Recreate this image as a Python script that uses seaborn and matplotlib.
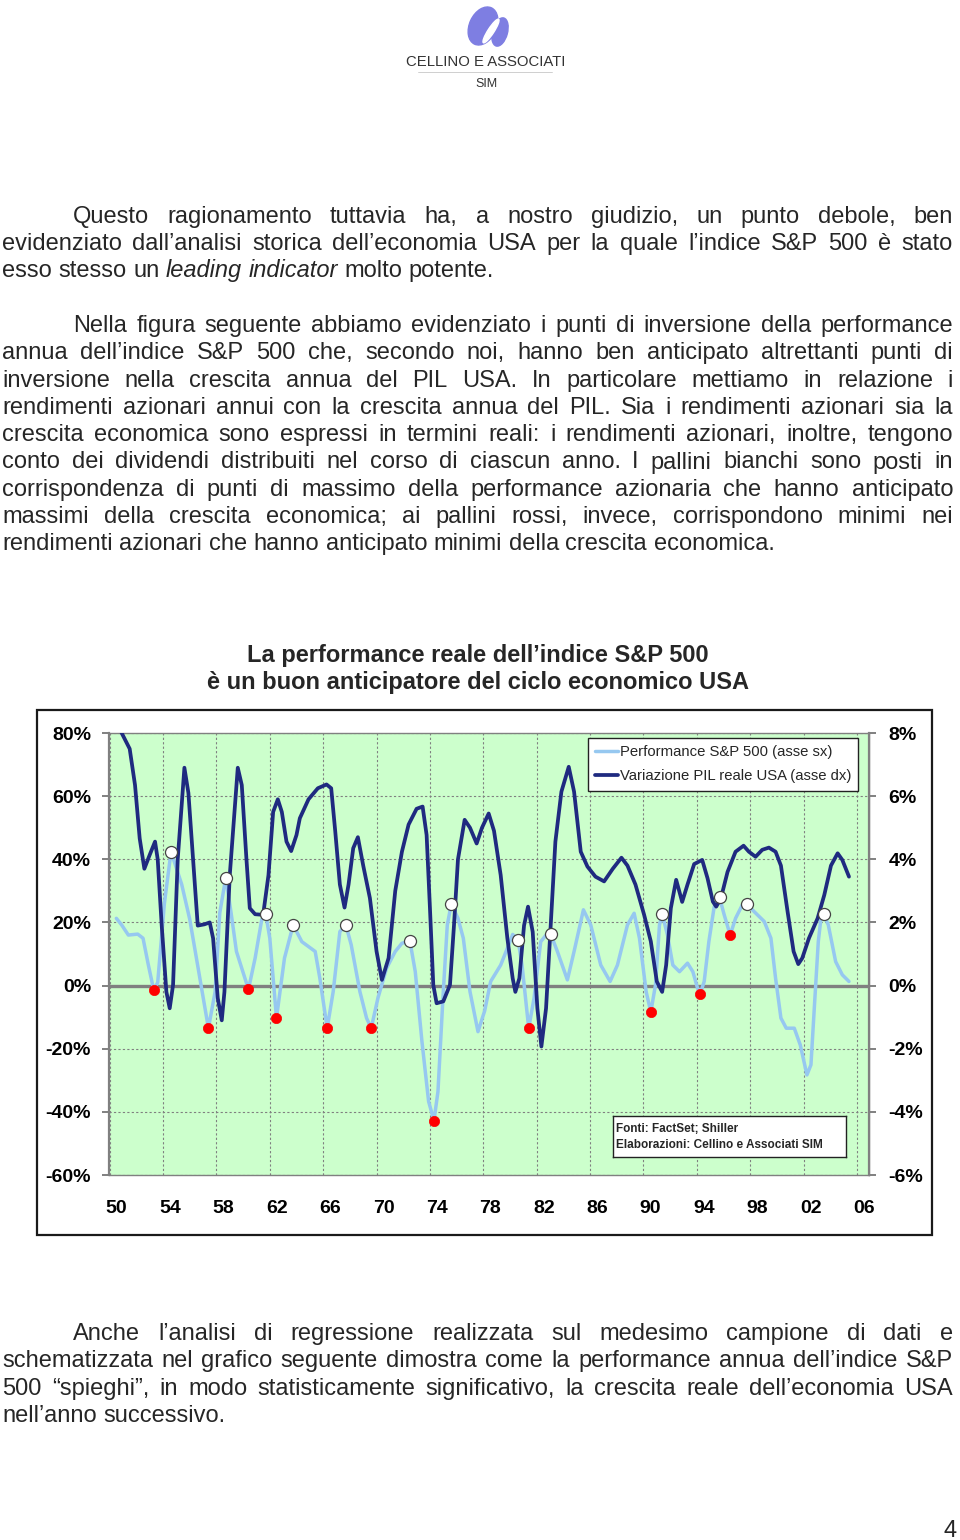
import matplotlib
matplotlib.use('Agg')
import matplotlib.pyplot as plt
from matplotlib.patches import Ellipse
from matplotlib.transforms import ScaledTranslation
import pandas as pd
import seaborn as sns

# ---------------- dati ----------------
# Performance reale S&P 500 (asse sx, %)
sp_anni = [1950.5, 1950.9, 1951.4, 1952.1, 1952.5, 1952.9, 1953.3, 1953.6, 1954.1, 1954.6,
           1955.4, 1956.0, 1956.5, 1957.4, 1957.9, 1958.25, 1958.7, 1959.1, 1959.5, 1960.4,
           1960.9, 1961.4, 1961.7, 1962.0, 1962.5, 1963.1, 1963.75, 1964.4, 1965.4, 1965.75,
           1966.3, 1966.75, 1967.25, 1967.7, 1968.1, 1968.75, 1969.25, 1969.6, 1970.1, 1970.75,
           1971.4, 1971.9, 1972.5, 1972.9, 1973.4, 1973.9, 1974.3, 1974.6, 1975.0, 1975.3,
           1975.6, 1976.1, 1976.5, 1977.0, 1977.6, 1978.1, 1978.55, 1979.3, 1979.9, 1980.2,
           1980.6, 1980.9, 1981.4, 1981.8, 1982.3, 1982.7, 1983.05, 1983.55, 1984.3, 1984.8,
           1985.5, 1986.05, 1986.8, 1987.5, 1988.05, 1988.8, 1989.3, 1989.7, 1990.2, 1990.55,
           1990.9, 1991.2, 1991.4, 1991.8, 1992.2, 1992.7, 1993.3, 1993.7, 1994.05, 1994.25,
           1994.55, 1994.9, 1995.3, 1995.7, 1996.05, 1996.5, 1996.9, 1997.4, 1997.75, 1998.3,
           1999.05, 1999.55, 1999.9, 2000.3, 2000.7, 2001.3, 2001.75, 2002.25, 2002.55, 2002.8,
           2003.1, 2003.3, 2003.5, 2003.85, 2004.4, 2004.9, 2005.4]
sp_perf = [21.3, 19.2, 16.0, 16.3, 15.0, 6.5, -1.4, 1.0, 26.0, 42.4,
           32.0, 21.0, 8.7, -13.5, -2.0, 23.0, 34.2, 23.0, 10.8, -1.2,
           8.7, 21.0, 22.6, 15.0, -10.3, 8.7, 19.2, 13.9, 10.8, 2.3,
           -13.5, -1.9, 17.1, 19.2, 12.9, -1.9, -10.3, -13.5, -4.0, 5.5,
           10.8, 13.4, 14.1, 4.4, -17.7, -36.7, -42.8, -33.6, -1.9, 19.2,
           25.9, 21.3, 15.0, -1.9, -14.6, -8.0, 1.3, 6.5, 12.9, 16.2,
           14.5, 6.5, -13.5, -4.0, 13.9, 16.0, 16.3, 10.8, 1.8, 10.8,
           24.0, 19.2, 6.5, 1.3, 6.5, 19.2, 22.9, 15.0, -1.9, -8.4,
           0.2, 19.2, 22.7, 16.0, 6.5, 4.4, 7.1, 4.4, -0.8, -2.7,
           1.3, 13.9, 25.0, 27.9, 22.4, 16.0, 21.3, 25.5, 25.9, 23.4,
           20.3, 15.0, 2.3, -10.3, -13.5, -13.5, -18.8, -28.3, -25.1, -7.2,
           13.9, 21.3, 22.6, 19.2, 7.6, 3.4, 1.3]

# Variazione PIL reale USA (asse dx, %)
pil_anni = [1950.3, 1950.9, 1951.5, 1951.9, 1952.25, 1952.6, 1953.0, 1953.4, 1953.6, 1953.9,
            1954.25, 1954.5, 1954.75, 1955.1, 1955.6, 1955.9, 1956.25, 1956.6, 1957.1, 1957.5,
            1957.75, 1958.1, 1958.4, 1958.6, 1959.0, 1959.6, 1959.9, 1960.25, 1960.5, 1960.9,
            1961.5, 1961.9, 1962.25, 1962.6, 1962.9, 1963.25, 1963.6, 1964.0, 1964.25, 1964.9,
            1965.6, 1966.25, 1966.6, 1966.9, 1967.25, 1967.6, 1967.9, 1968.25, 1968.6, 1969.0,
            1969.5, 1970.0, 1970.4, 1970.9, 1971.4, 1971.9, 1972.4, 1973.0, 1973.45, 1973.75,
            1974.0, 1974.25, 1974.5, 1975.0, 1975.5, 1975.8, 1976.1, 1976.6, 1977.0, 1977.5,
            1977.9, 1978.4, 1978.8, 1979.3, 1979.8, 1980.2, 1980.4, 1980.7, 1981.05, 1981.35,
            1981.7, 1982.05, 1982.35, 1982.7, 1983.05, 1983.4, 1983.85, 1984.4, 1984.8, 1985.3,
            1985.8, 1986.4, 1987.05, 1987.7, 1988.35, 1988.8, 1989.4, 1990.05, 1990.55, 1991.0,
            1991.4, 1991.7, 1992.05, 1992.45, 1992.9, 1993.3, 1993.8, 1994.4, 1994.8, 1995.2,
            1995.45, 1995.8, 1996.3, 1996.9, 1997.5, 1997.9, 1998.4, 1998.9, 1999.4, 1999.9,
            2000.3, 2000.8, 2001.25, 2001.6, 2001.9, 2002.4, 2003.05, 2003.55, 2004.05, 2004.55,
            2004.9, 2005.4]
pil_var = [8.7, 8.0, 7.5, 6.35, 4.66, 3.7, 4.14, 4.56, 4.0, 1.9,
           -0.2, -0.72, 0.02, 4.0, 6.9, 6.1, 4.0, 1.9, 1.94, 2.0,
           1.5, -0.4, -1.1, -0.2, 3.5, 6.9, 6.35, 4.0, 2.45, 2.26,
           2.24, 3.5, 5.5, 5.9, 5.5, 4.56, 4.26, 4.77, 5.3, 5.9,
           6.25, 6.37, 6.25, 4.9, 3.2, 2.47, 3.2, 4.35, 4.7, 3.8,
           2.77, 1.08, 0.18, 0.87, 3.0, 4.24, 5.1, 5.6, 5.67, 4.77,
           2.45, 0.02, -0.56, -0.5, 0.02, 1.9, 4.0, 5.25, 5.0, 4.5,
           5.0, 5.45, 4.9, 3.5, 1.5, 0.23, -0.2, 0.23, 1.9, 2.5,
           1.7, -0.72, -1.93, -0.72, 1.9, 4.56, 6.14, 6.93, 6.14, 4.24,
           3.77, 3.45, 3.3, 3.7, 4.05, 3.8, 3.2, 2.24, 1.4, 0.13,
           -0.2, 0.65, 2.45, 3.35, 2.65, 3.2, 3.85, 3.98, 3.4, 2.66,
           2.5, 2.76, 3.6, 4.24, 4.43, 4.24, 4.08, 4.3, 4.37, 4.24,
           3.8, 2.34, 1.08, 0.68, 0.87, 1.5, 2.13, 2.87, 3.8, 4.19,
           3.98, 3.45]

# pallini bianchi (massimi) e rossi (minimi) della performance S&P 500
max_anni = [1954.6, 1958.7, 1961.7, 1963.75, 1967.7, 1972.5, 1975.6, 1980.6, 1983.05,
            1991.4, 1995.7, 1997.75, 2003.5]
max_perf = [42.4, 34.2, 22.6, 19.2, 19.2, 14.1, 25.9, 14.5, 16.3, 22.7, 27.9, 25.9, 22.6]
min_anni = [1953.3, 1957.4, 1960.4, 1962.5, 1966.3, 1969.6, 1974.3, 1981.4, 1990.55,
            1994.25, 1996.5]
min_perf = [-1.4, -13.5, -1.2, -10.3, -13.5, -13.5, -42.8, -13.5, -8.4, -2.7, 16.0]

anni_tick = [1950, 1954, 1958, 1962, 1966, 1970, 1974, 1978, 1982, 1986, 1990, 1994, 1998, 2002, 2006]
etichette_anni = ['50', '54', '58', '62', '66', '70', '74', '78', '82', '86', '90', '94', '98', '02', '06']
tick_sx = [80, 60, 40, 20, 0, -20, -40, -60]
etichette_sx = ['80%', '60%', '40%', '20%', '0%', '-20%', '-40%', '-60%']
tick_dx = [8, 6, 4, 2, 0, -2, -4, -6]
etichette_dx = ['8%', '6%', '4%', '2%', '0%', '-2%', '-4%', '-6%']

# ---------------- testi ----------------
par1 = ["Questo ragionamento tuttavia ha, a nostro giudizio, un punto debole, ben",
        "evidenziato dall’analisi storica dell’economia USA per la quale l’indice S&P 500 è stato",
        "esso stesso un *leading* *indicator* molto potente."]
par2 = ["Nella figura seguente abbiamo evidenziato i punti di inversione della performance",
        "annua dell’indice S&P 500 che, secondo noi, hanno ben anticipato altrettanti punti di",
        "inversione nella crescita annua del PIL USA. In particolare mettiamo in relazione i",
        "rendimenti azionari annui con la crescita annua del PIL. Sia i rendimenti azionari sia la",
        "crescita economica sono espressi in termini reali: i rendimenti azionari, inoltre, tengono",
        "conto dei dividendi distribuiti nel corso di ciascun anno. I pallini bianchi sono posti in",
        "corrispondenza di punti di massimo della performance azionaria che hanno anticipato",
        "massimi della crescita economica; ai pallini rossi, invece, corrispondono minimi nei",
        "rendimenti azionari che hanno anticipato minimi della crescita economica."]
par3 = ["Anche l’analisi di regressione realizzata sul medesimo campione di dati e",
        "schematizzata nel grafico seguente dimostra come la performance annua dell’indice S&P",
        "500 “spieghi”, in modo statisticamente significativo, la crescita reale dell’economia USA",
        "nell’anno successivo."]
titolo = ["La performance reale dell’indice S&P 500",
          "è un buon anticipatore del ciclo economico USA"]

sns.set_style('white')
plt.rcParams['font.family'] = ['Liberation Sans', 'DejaVu Sans']

fig = plt.figure(figsize=(9.6, 15.4), dpi=100)
page = fig.add_axes([0, 0, 1, 1], zorder=0)
page.set_xlim(0, 960)
page.set_ylim(1540, 0)
page.axis('off')
renderer = fig.canvas.get_renderer()

FS = 17
SPACE = 0.278 * FS * 100 / 72


def riga(testo, y, x0, x1=None):
    parole = testo.split(' ')
    arts = []
    for p in parole:
        stile = 'normal'
        if p.startswith('*'):
            p = p.strip('*')
            stile = 'italic'
        arts.append(page.text(0, y, p, fontsize=FS, style=stile, va='baseline', ha='left'))
    larg = [a.get_window_extent(renderer).width for a in arts]
    if x1 is None or len(arts) < 2:
        gap = SPACE
    else:
        gap = (x1 - x0 - sum(larg)) / (len(arts) - 1)
    x = x0
    for a, w in zip(arts, larg):
        a.set_x(x)
        x += w + gap


def paragrafo(righe, y0, passo=27.3):
    for i, r in enumerate(righe):
        ultima = i == len(righe) - 1
        riga(r, y0 + i * passo, 73 if i == 0 else 2, None if ultima else 953)


paragrafo(par1, 222.7)
paragrafo(par2, 332.0)
paragrafo(par3, 1340.0)
page.text(478, 662, titolo[0], fontsize=17, fontweight='bold', ha='center', va='baseline')
page.text(478, 689, titolo[1], fontsize=17, fontweight='bold', ha='center', va='baseline')
page.text(957, 1537, '4', fontsize=FS, ha='right', va='baseline')

# logo
blu_logo = '#7E7EE2'
page.add_patch(Ellipse((483, 26), 27, 40, angle=25, color=blu_logo))
page.add_patch(Ellipse((500, 32), 15, 29, angle=15, color=blu_logo))
page.add_patch(Ellipse((491, 31), 6, 28, angle=33, color='white'))
page.text(486, 66, 'CELLINO E ASSOCIATI', fontsize=10.7, color='#333333', ha='center', va='baseline')
page.plot([418, 552], [72, 72], color='#c8c8c8', lw=0.6)
page.text(486, 87, 'SIM', fontsize=9, color='#333333', ha='center', va='baseline')

# cornice del grafico
page.add_patch(plt.Rectangle((37, 710), 895, 525, fill=False, edgecolor='#1a1a1a', lw=1.6))

# ---------------- grafico ----------------
pos = [109 / 960, 1 - 1175 / 1540, (869 - 109) / 960, (1175 - 733) / 1540]
ax = fig.add_axes(pos, zorder=1)
ax.set_facecolor('#CCFFCC')
ax2 = ax.twinx()

grigio = '#808080'
azzurro = '#96C8F0'
blu = '#1F2A80'

df_sp = pd.DataFrame({'anno': sp_anni, 'perf': sp_perf})
df_pil = pd.DataFrame({'anno': pil_anni, 'pil': pil_var})

ax.axhline(0, color=grigio, lw=2.4, zorder=1.5)
sns.lineplot(data=df_sp, x='anno', y='perf', ax=ax, color=azzurro, lw=2.5,
             estimator=None, label='Performance S&P 500 (asse sx)', zorder=3)
sns.lineplot(data=df_pil, x='anno', y='pil', ax=ax2, color=blu, lw=2.7,
             estimator=None, label='Variazione PIL reale USA (asse dx)', zorder=3)
h1, l1 = ax.get_legend_handles_labels()
h2, l2 = ax2.get_legend_handles_labels()
for a in (ax, ax2):
    if a.get_legend() is not None:
        a.get_legend().remove()

ax.set_xlim(1949.95, 2006.9)
ax.set_ylim(-60, 80)
ax2.set_ylim(-6, 8)
ax.set_xticks(anni_tick)
ax.set_xticklabels(etichette_anni)
ax.set_yticks(tick_sx)
ax.set_yticklabels(etichette_sx)
ax2.set_yticks(tick_dx)
ax2.set_yticklabels(etichette_dx)
ax.set_xlabel('')
ax.set_ylabel('')
ax2.set_ylabel('')

ax.grid(True, color=grigio, linestyle=(0, (2, 2)), lw=0.8)
ax.set_axisbelow(True)
for s in ax.spines.values():
    s.set_color(grigio)
    s.set_linewidth(1.0)
ax.spines['left'].set_linewidth(1.6)
for s in ax2.spines.values():
    s.set_visible(False)
ax2.spines['right'].set_visible(True)
ax2.spines['right'].set_color(grigio)
ax2.spines['right'].set_linewidth(1.6)

ax.tick_params(axis='both', direction='out', length=5, width=1.4, color=grigio,
               labelsize=14, labelcolor='black')
ax.tick_params(axis='y', pad=8)
ax.tick_params(axis='x', pad=13)
ax2.tick_params(axis='y', direction='out', length=5, width=1.4, color=grigio,
                labelsize=14, labelcolor='black', pad=9)
for t in ax.get_xticklabels() + ax.get_yticklabels() + ax2.get_yticklabels():
    t.set_fontweight('bold')
sposta = ScaledTranslation(7 / 100, 0, fig.dpi_scale_trans)
for t in ax.get_xticklabels():
    t.set_transform(t.get_transform() + sposta)

# livello superiore: pallini e legenda
ax3 = fig.add_axes(pos, zorder=3, sharex=ax, sharey=ax)
ax3.patch.set_visible(False)
ax3.axis('off')
sns.scatterplot(x=max_anni, y=max_perf, ax=ax3, color='white', edgecolor='#444444',
                linewidth=0.9, s=75, zorder=5)
sns.scatterplot(x=min_anni, y=min_perf, ax=ax3, color='#FF0000', edgecolor='#FF0000',
                linewidth=0.5, s=55, zorder=5)

leg = ax3.legend(h1 + h2, l1 + l2, loc='upper left', bbox_to_anchor=(588 / 960, 1 - 738 / 1540),
                 bbox_transform=fig.transFigure, borderaxespad=0, fontsize=10.7, frameon=True,
                 fancybox=False, framealpha=1, edgecolor='#222222', handlelength=1.5,
                 handletextpad=0.12, labelspacing=0.65, borderpad=0.5)
leg.get_frame().set_linewidth(1.0)

# riquadro fonti
nota = fig.add_axes([613 / 960, 1 - 1157 / 1540, (846 - 613) / 960, (1157 - 1116) / 1540], zorder=4)
nota.set_facecolor('white')
nota.set_xticks([])
nota.set_yticks([])
for s in nota.spines.values():
    s.set_color('#222222')
    s.set_linewidth(1.0)
nota.text(0.012, 0.60, 'Fonti: FactSet; Shiller', fontsize=8.5, fontweight='bold',
          transform=nota.transAxes, va='baseline')
nota.text(0.012, 0.22, 'Elaborazioni: Cellino e Associati SIM', fontsize=8.5, fontweight='bold',
          transform=nota.transAxes, va='baseline')

fig.savefig('out.png', dpi=100)
